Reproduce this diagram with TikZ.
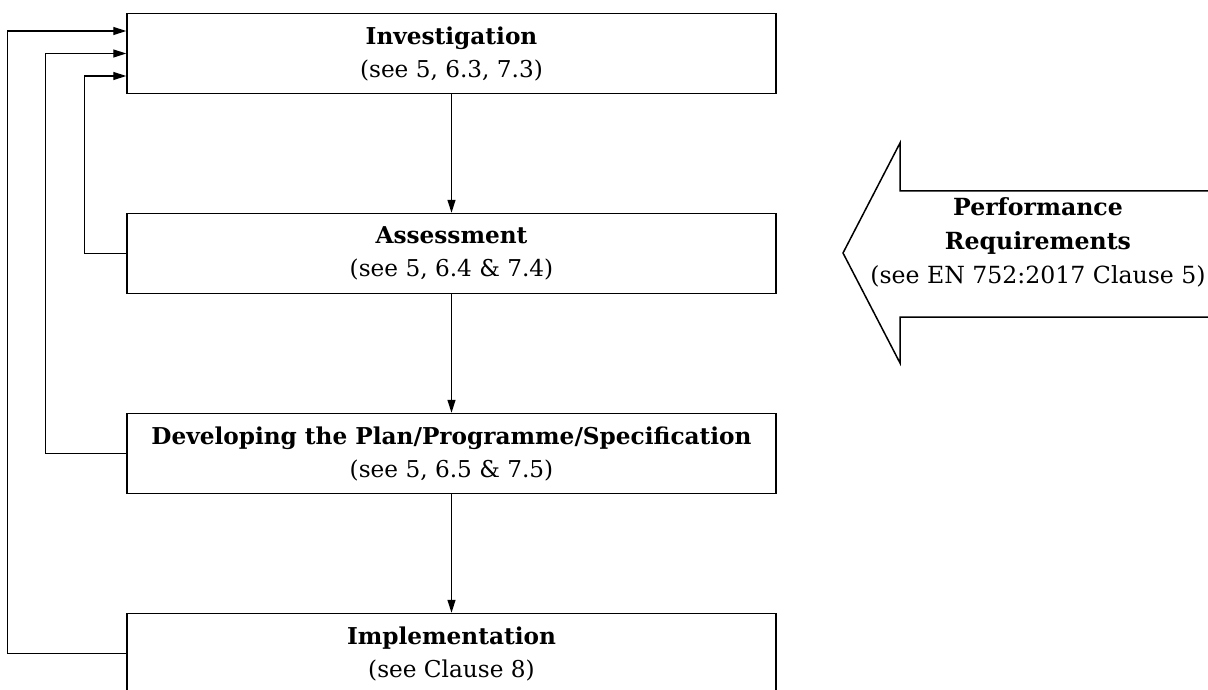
\documentclass[tikz,border=0pt]{standalone}
\usepackage{fontspec}
\setmainfont{DejaVu Serif}
\usetikzlibrary{arrows.meta}

\tikzset{
  stage/.style={draw, line width=1.5pt, minimum width=649pt, minimum height=80pt,
    inner sep=0pt, align=center, font=\fontsize{23.2}{33}\selectfont},
  flow/.style={line width=1.4pt, -{Triangle[length=13pt,width=8pt]}},
}

\begin{document}
\begin{tikzpicture}[x=1pt,y=-1pt]
\useasboundingbox (0,0) rectangle (1208,690);

% the four stages
\node[stage] (inv) at (451.5,53.5) {\textbf{Investigation}\\(see 5, 6.3, 7.3)};
\node[stage] (ass) at (451.5,253.5) {\textbf{Assessment}\\(see 5, 6.4 \& 7.4)};
\node[stage] (dev) at (451.5,453.5) {\textbf{Developing the Plan/Programme/Specification}\\(see 5, 6.5 \& 7.5)};
\node[stage] (imp) at (451.5,653.5) {\textbf{Implementation}\\(see Clause 8)};

\draw[flow] (inv) -- (ass);
\draw[flow] (ass) -- (dev);
\draw[flow] (dev) -- (imp);

% loops back to the investigation
\draw[flow] (ass.west) -- ++(-42,0) |- ([yshift=-22.5pt]inv.west);
\draw[flow] (dev.west) -- ++(-81,0) |- (inv.west);
\draw[flow] (imp.west) -- ++(-119,0) |- ([yshift=22.5pt]inv.west);

% big arrow
\draw[line width=1.5pt, line join=miter] (1210,191) -- (900,191) -- (900,143) -- (843,253)
  -- (900,363) -- (900,317) -- (1210,317);
\node[align=center, font=\fontsize{23.6}{34}\selectfont] (perf) at (1038,242)
  {\textbf{Performance}\\\textbf{Requirements}\\(see EN 752:2017 Clause 5)};
\end{tikzpicture}
\end{document}
